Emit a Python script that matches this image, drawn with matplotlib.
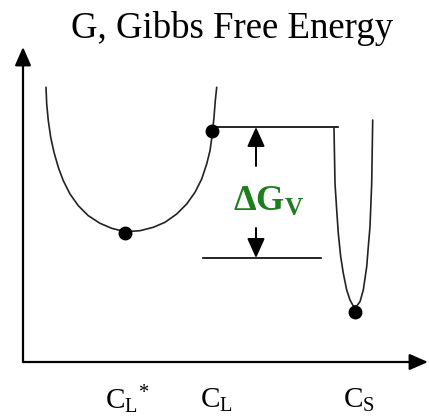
import matplotlib
matplotlib.use("Agg")
import matplotlib.pyplot as plt

plt.rcParams["font.family"] = ["Liberation Serif", "DejaVu Serif"]
plt.rcParams["mathtext.fontset"] = "custom"
plt.rcParams["mathtext.rm"] = "Liberation Serif"
plt.rcParams["mathtext.bf"] = "Liberation Serif:bold"
plt.rcParams["mathtext.it"] = "Liberation Serif:italic"

# ── data (composition x, free energy G; picture units, G upwards) ──────────
TITLE = "G, Gibbs Free Energy"

liquid_x = [46, 46.7, 48.3, 50.7, 54, 58.3, 63.3, 70, 78.3, 88.3, 100, 111.7, 125,
            140, 153.3, 165, 176.7, 186.7, 195, 201.7, 206.7, 210, 212.3, 214, 215.3, 216.7]
liquid_G = [329.7, 313, 296.3, 279.7, 264.7, 249.7, 236.3, 223, 211.3, 201.3, 193.7, 188.7, 185.3,
            186.3, 189.7, 194.7, 203, 213, 224.7, 238, 253, 266.3, 283, 299.7, 316.3, 329.7]

solid_x = [334, 335, 336.7, 338.3, 340.7, 343.3, 346.7, 350, 353.3, 356.7,
           360, 363.3, 366.7, 368.3, 370, 371.7, 372.7]
solid_G = [288.7, 233.7, 207, 183.7, 160.3, 143.7, 127, 117, 111, 111,
           115.3, 127, 150.3, 170.3, 190.3, 233.7, 297]

point_x = [125, 212, 355]          # C_L*, C_L, C_S
point_G = [184, 286, 105]
point_labels = [r"$\mathrm{{C_L}^{*}}$", r"$\mathrm{C_L}$", r"$\mathrm{C_S}$"]
label_x = [127, 216, 359]

upper_level = dict(x0=212, x1=338, G=290)
lower_level = dict(x0=203, x1=321, G=159)
dG_label = r"$\mathbf{\Delta G_V}$"
dG_x = 256

axis_origin = (23, 55)
axis_xmax = 428
axis_Gmax = 370

# ── figure ──────────────────────────────────────────────────────────────────
fig = plt.figure(figsize=(4.29, 4.17), dpi=100)
ax = fig.add_axes([0, 0, 1, 1])
ax.set_xlim(0, 429)
ax.set_ylim(0, 417)
ax.axis("off")

ax_arrow = dict(arrowstyle="-|>,head_length=0.8,head_width=0.35",
                color="black", lw=1.6, mutation_scale=14, shrinkA=0, shrinkB=0)
ax.annotate("", xy=(axis_origin[0], axis_Gmax), xytext=axis_origin, arrowprops=ax_arrow)
ax.annotate("", xy=(axis_xmax, axis_origin[1]), xytext=axis_origin, arrowprops=ax_arrow)

ax.plot(liquid_x, liquid_G, color="#222222", lw=1.2, solid_capstyle="round")
ax.plot(solid_x, solid_G, color="#222222", lw=1.2, solid_capstyle="round")
ax.plot(point_x, point_G, "o", color="black", ms=9)

ax.plot([upper_level["x0"], upper_level["x1"]], [upper_level["G"]] * 2, color="black", lw=1.2)
ax.plot([lower_level["x0"], lower_level["x1"]], [lower_level["G"]] * 2, color="black", lw=1.2)

dg_arrow = dict(arrowstyle="-|>,head_length=1.0,head_width=0.45",
                color="black", lw=1.4, mutation_scale=12, shrinkA=0, shrinkB=0)
ax.annotate("", xy=(dG_x, upper_level["G"]), xytext=(dG_x, 251), arrowprops=dg_arrow)
ax.annotate("", xy=(dG_x, lower_level["G"]), xytext=(dG_x, 189), arrowprops=dg_arrow)
ax.text(268, 215, dG_label, color="#1e7d1e", fontsize=26, ha="center", va="center")

for x, lab in zip(label_x, point_labels):
    ax.text(x, 17, lab, fontsize=21, ha="center", va="center")

ax.text(232, 389, TITLE, fontsize=26.5, ha="center", va="center")

fig.savefig("out.png", dpi=100)
